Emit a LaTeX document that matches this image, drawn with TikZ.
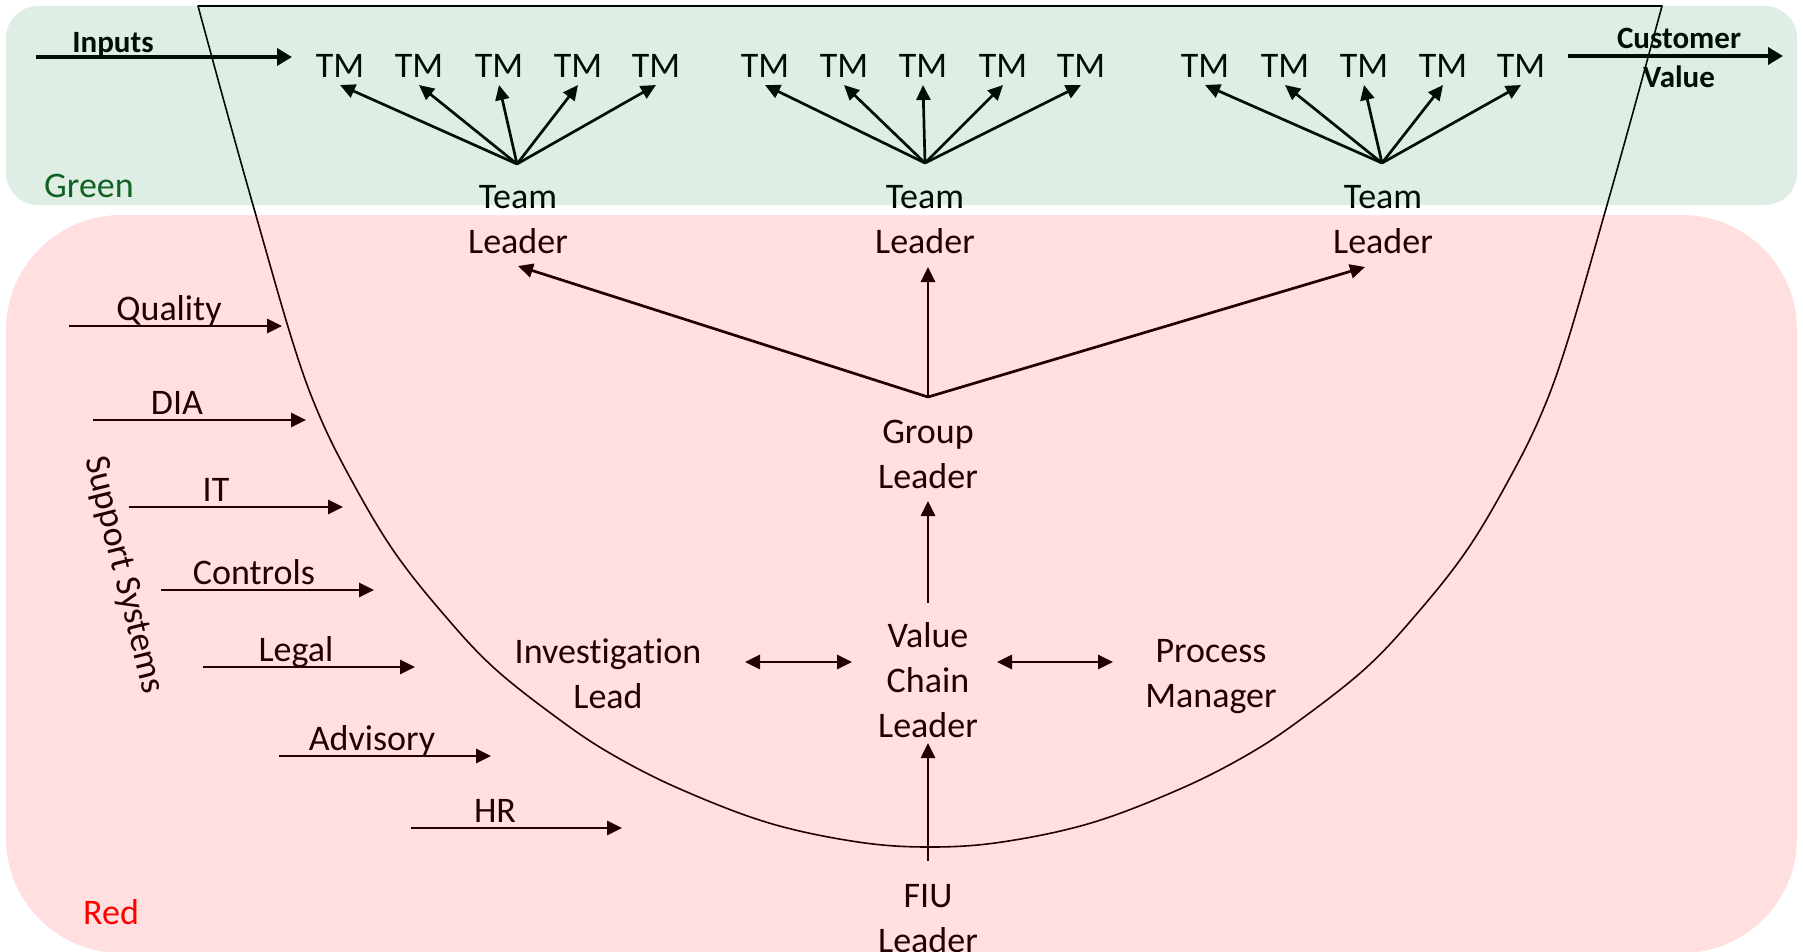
\documentclass[tikz,border=0pt]{standalone}
\usepackage{fontspec}
\setmainfont{Carlito}[Ligatures=NoCommon]
\usetikzlibrary{arrows.meta}
\definecolor{greentint}{RGB}{0,116,39}
\definecolor{redtint}{RGB}{255,0,8}
\definecolor{greenword}{RGB}{16,98,36}
\definecolor{redword}{RGB}{255,0,0}
\begin{document}
\begin{tikzpicture}[x=1pt,y=-1pt,
  txt/.style={inner sep=0pt, anchor=base, align=center, font=\fontsize{36}{45}\selectfont},
  boldtxt/.style={inner sep=0pt, anchor=base, align=center, font=\fontsize{31}{39}\selectfont\bfseries},
  arr/.style={line width=2.7pt, -{Triangle[length=15pt,width=14pt]}},
  dbl/.style={line width=2.7pt, {Triangle[length=15pt,width=14pt]}-{Triangle[length=15pt,width=14pt]}},
  fat/.style={line width=4.5pt, -{Triangle[length=15pt,width=17pt]}},
  funnel/.style={line width=1.6pt, line join=round},
  band/.style={fill opacity=0.125}]
\useasboundingbox (0,0) rectangle (1803,951);

% the value funnel
\draw[funnel] plot[smooth, tension=0.6] coordinates {
  (198,6) (225,105) (253,205) (293,343) (320,417) (353,483) (393,550)
  (440,610) (493,667) (560,720) (613,755) (680,789) (769,823) (858,842)
  (930,847) (1002,842) (1091,823) (1180,789) (1247,755) (1300,720)
  (1367,667) (1420,610) (1467,550) (1507,483) (1540,417) (1567,343)
  (1607,205) (1635,105) (1662,6)} -- cycle;

% team members
\foreach \x [count=\i] in {340,419,499,578,656}
  \node[txt] (tma\i) at (\x,77) {TM};
\foreach \x [count=\i] in {765,844,923,1003,1081}
  \node[txt] (tmb\i) at (\x,77) {TM};
\foreach \x [count=\i] in {1205,1285,1364,1443,1521}
  \node[txt] (tmc\i) at (\x,77) {TM};

% team leaders (a node's base is the baseline of its last line)
\node[txt] (tl1) at (518,253) {Team\\Leader};
\node[txt] (tl2) at (925,253) {Team\\Leader};
\node[txt] (tl3) at (1383,253) {Team\\Leader};

\coordinate (fa) at ([xshift=-1,yshift=89]tl1.base);
\coordinate (fb) at ([yshift=90]tl2.base);
\coordinate (fc) at ([xshift=-1,yshift=90]tl3.base);
\foreach \i in {1,...,5} {
  \draw[arr] (fa) -- ([yshift=-8]tma\i.base);
  \draw[arr] (fb) -- ([yshift=-8]tmb\i.base);
  \draw[arr] (fc) -- ([yshift=-8]tmc\i.base);
}

% flow in and out
\coordinate (src) at (36,57);
\coordinate (snk) at (1783,56);
\node[boldtxt] (inp) at (113,52) {Inputs};
\node[boldtxt] (cv) at (1679,87) {Customer\\Value};
\draw[fat] (src) -- ([xshift=-48,yshift=20]tma1.base);
\draw[fat] ([xshift=47,yshift=21]tmc5.base) -- (snk);

% leadership chain
\node[txt] (gl)  at (928,488) {Group\\Leader};
\node[txt] (vcl) at (928,737) {Value\\Chain\\Leader};
\node[txt] (inv) at (608,708) {Investigation\\Lead};
\node[txt] (pm)  at (1211,707) {Process\\Manager};
\node[txt] (fiu) at (928,952) {FIU\\Leader};

\coordinate (ga) at ([yshift=91]gl.base);
\draw[arr] (ga) -- ([yshift=-13]tl1.base);
\draw[arr] (ga) -- ([xshift=3,yshift=-14]tl2.base);
\draw[arr] (ga) -- ([xshift=-18,yshift=-14]tl3.base);
\draw[arr] ([yshift=134]vcl.base) -- ([yshift=-13]gl.base);
\draw[arr] ([yshift=91]fiu.base) -- ([yshift=-6]vcl.base);
\draw[dbl] ([xshift=137,yshift=46]inv.base) -- ([xshift=-76,yshift=75]vcl.base);
\draw[dbl] ([xshift=69,yshift=75]vcl.base) -- ([xshift=-98,yshift=45]pm.base);

% support systems
\node[txt, anchor=center, rotate=-76] (sup) at (123,575) {Support Systems};
\foreach \name/\lx/\ly/\xa/\xb [count=\i] in {
    Quality/169/320/69/282, DIA/177/414/93/306, IT/216/501/129/343,
    Controls/254/584/161/374, Legal/296/661/203/415,
    Advisory/372/750/279/491, HR/495/822/411/622} {
  \node[txt] (sl\i) at (\lx,\ly) {\name};
  \coordinate (sa\i) at (\xa,\ly+6);
  \coordinate (sb\i) at (\xb,\ly+6);
  \draw[arr] (sa\i) -- (sb\i);
}

% coloured bands laid over the drawing
\fill[greentint, band] (6,6) [rounded corners=32pt] rectangle (1797,205);
\fill[redtint, band] (6,215) [rounded corners=115pt] rectangle (1797,953);

\node[txt, anchor=base west, text=greenword] (gw) at (44,197) {Green};
\node[txt, anchor=base west, text=redword] (rw) at (83,924) {Red};
\end{tikzpicture}
\end{document}
